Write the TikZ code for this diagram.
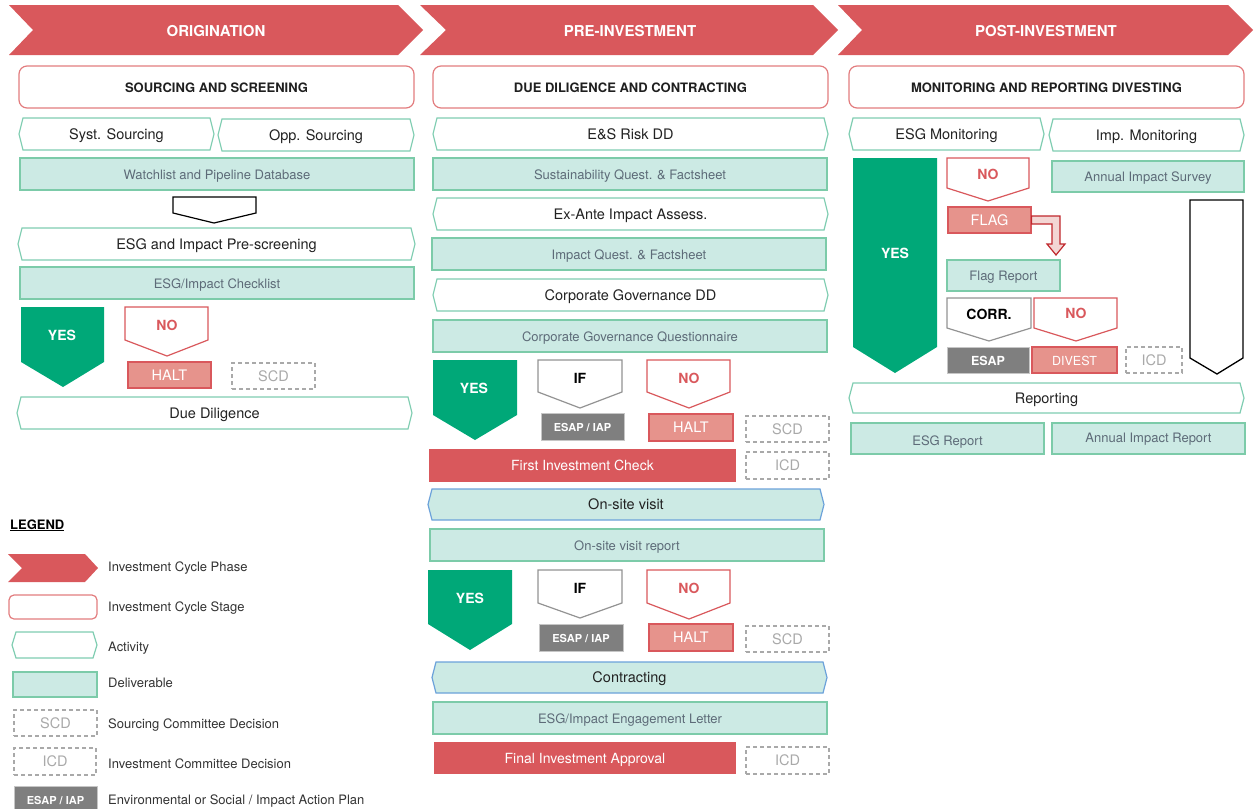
\documentclass[tikz,border=0pt]{standalone}
\usepackage{fontspec}
\setmainfont{TeX Gyre Heros}

\definecolor{phasered}{HTML}{D9585C}
\definecolor{stagered}{HTML}{E27C7E}
\definecolor{actgreen}{HTML}{7FCDB1}
\definecolor{delivfill}{HTML}{CCEAE4}
\definecolor{delivline}{HTML}{7CCBA9}
\definecolor{delivtext}{HTML}{5D6B78}
\definecolor{yesgreen}{HTML}{00A878}
\definecolor{haltfill}{HTML}{E6938C}
\definecolor{esapgray}{HTML}{7F7F7F}
\definecolor{visitblue}{HTML}{6CA2DA}
\definecolor{cdgray}{HTML}{A9A9A9}
\definecolor{flagfill}{HTML}{F3D6D4}
\definecolor{flagline}{HTML}{C0282D}
\definecolor{inktext}{HTML}{222222}

\tikzset{
  txtbase/.style={inner sep=0pt, text height=1.05em, text depth=0.05em},
  phase/.style={fill=phasered},
  phasetxt/.style={txtbase, text=white, font=\fontsize{15}{17}\selectfont\bfseries},
  stagebox/.style={txtbase, shape=rectangle, draw=stagered, line width=1.2pt, rounded corners=8pt, text=black!88, font=\fontsize{13}{15}\selectfont\bfseries},
  actline/.style={draw=actgreen, line width=1.2pt, fill=white},
  visitline/.style={draw=visitblue, line width=1.2pt, fill=delivfill},
  acttxt/.style={txtbase, text=inktext, font=\fontsize{14.5}{16}\selectfont},
  delivbox/.style={txtbase, shape=rectangle, draw=delivline, fill=delivfill, line width=1.2pt, text=delivtext, font=\fontsize{13}{15}\selectfont},
  yestag/.style={fill=yesgreen},
  notag/.style={draw=phasered, line width=1.2pt, fill=white},
  iftag/.style={draw=gray!85, line width=1.2pt, fill=white},
  tagtxt/.style={txtbase, font=\fontsize{14}{16}\selectfont\bfseries},
  haltbox/.style={txtbase, shape=rectangle, fill=haltfill, draw=phasered, line width=1.2pt, text=white, font=\fontsize{14.5}{16}\selectfont},
  esapbox/.style={txtbase, shape=rectangle, fill=esapgray, draw=gray!45, line width=0.8pt, text=white, font=\fontsize{11}{13}\selectfont\bfseries},
  cdbox/.style={txtbase, shape=rectangle, draw=cdgray, dash pattern=on 4pt off 3pt, line width=1.2pt, text=cdgray, font=\fontsize{14.5}{16}\selectfont},
  checkbox/.style={txtbase, shape=rectangle, fill=phasered, text=white, font=\fontsize{14}{16}\selectfont},
  flagarrow/.style={draw=flagline, fill=flagfill, line width=1.2pt, line join=miter},
  legtxt/.style={txtbase, anchor=west, text=black!80, font=\fontsize{13}{15}\selectfont}
}

\begin{document}
\begin{tikzpicture}[x=1pt, y=-1pt]
% Paths, nodes and shapes:
\useasboundingbox (0,0) rectangle (1254,809);

% phases
\fill[phase] (9,5) -- (398,5) -- (423,30) -- (398,55) -- (9,55) -- (33,30) -- cycle;
\node[phasetxt] (orig) at (216,31) {ORIGINATION};
\fill[phase] (420,5) -- (813,5) -- (838,30) -- (813,55) -- (420,55) -- (446,30) -- cycle;
\node[phasetxt] (preinv) at (630,31) {PRE-INVESTMENT};
\fill[phase] (838,5) -- (1228,5) -- (1253,30) -- (1228,55) -- (838,55) -- (862,30) -- cycle;
\node[phasetxt] (postinv) at (1046,31) {POST-INVESTMENT};

% stages
\node[stagebox, minimum width=395pt, minimum height=42pt] (sourcing) at (216.5,87) {SOURCING AND SCREENING};
\node[stagebox, minimum width=395pt, minimum height=42pt] (duedil) at (630.5,87) {DUE DILIGENCE AND CONTRACTING};
\node[stagebox, minimum width=395pt, minimum height=42pt] (monitor) at (1046.5,87) {MONITORING AND REPORTING DIVESTING};

% origination
\draw[actline] (19,134) -- (23,118) -- (210,118) -- (214,134) -- (210,150) -- (23,150) -- cycle;
\node[acttxt] (syst) at (116.5,134) {Syst. Sourcing};
\draw[actline] (218,135) -- (222,119) -- (410,119) -- (414,135) -- (410,151) -- (222,151) -- cycle;
\node[acttxt] (opp) at (316,135) {Opp. Sourcing};
\node[delivbox, minimum width=394pt, minimum height=32pt] (watchlist) at (217,174) {Watchlist and Pipeline Database};
\draw[black, line width=1.2pt, fill=white] (173,197) -- (256,197) -- (256,213) -- (214,223) -- (173,213) -- cycle;
\draw[actline] (18,244) -- (22,228) -- (411,228) -- (415,244) -- (411,260) -- (22,260) -- cycle;
\node[acttxt] (prescreen) at (216.5,244) {ESG and Impact Pre-screening};
\node[delivbox, minimum width=394pt, minimum height=32pt] (checklist) at (217,283) {ESG/Impact Checklist};
\fill[yestag] (21,307) -- (104,307) -- (104,362) -- (63,387) -- (21,362) -- cycle;
\node[tagtxt, text=white] (yesa) at (62,335) {YES};
\draw[notag] (125,307) -- (208,307) -- (208,340) -- (167,356) -- (125,340) -- cycle;
\node[tagtxt, text=phasered] (noa) at (167,325) {NO};
\node[haltbox, minimum width=83pt, minimum height=26pt] (halta) at (169.5,375) {HALT};
\node[cdbox, minimum width=83pt, minimum height=26pt] (scda) at (273.5,376) {SCD};
\draw[actline] (17,413) -- (21,397) -- (408,397) -- (412,413) -- (408,429) -- (21,429) -- cycle;
\node[acttxt] (ddact) at (214.5,413) {Due Diligence};

% pre-investment
\draw[actline] (433,134) -- (437,118) -- (824,118) -- (828,134) -- (824,150) -- (437,150) -- cycle;
\node[acttxt] (esrisk) at (630.5,134) {E\&S Risk DD};
\node[delivbox, minimum width=394pt, minimum height=32pt] (sustq) at (630,174) {Sustainability Quest. \& Factsheet};
\draw[actline] (433,214) -- (437,198) -- (824,198) -- (828,214) -- (824,230) -- (437,230) -- cycle;
\node[acttxt] (exante) at (630.5,214) {Ex-Ante Impact Assess.};
\node[delivbox, minimum width=394pt, minimum height=32pt] (impq) at (629,254) {Impact Quest. \& Factsheet};
\draw[actline] (433,295) -- (437,279) -- (824,279) -- (828,295) -- (824,311) -- (437,311) -- cycle;
\node[acttxt] (cgdd) at (630.5,295) {Corporate Governance DD};
\node[delivbox, minimum width=394pt, minimum height=32pt] (cgq) at (630,336) {Corporate Governance Questionnaire};
\fill[yestag] (433,360) -- (517,360) -- (517,415) -- (475,440) -- (433,415) -- cycle;
\node[tagtxt, text=white] (yesb) at (474,388) {YES};
\draw[iftag] (538,360) -- (622,360) -- (622,392) -- (580,408) -- (538,392) -- cycle;
\node[tagtxt, text=black] (ifb) at (580,378) {IF};
\node[esapbox, minimum width=83pt, minimum height=27pt] (esapb) at (582.5,426.5) {ESAP / IAP};
\draw[notag] (647,360) -- (730,360) -- (730,392) -- (689,408) -- (647,392) -- cycle;
\node[tagtxt, text=phasered] (nob) at (689,378) {NO};
\node[haltbox, minimum width=84pt, minimum height=27pt] (haltb) at (691,427.5) {HALT};
\node[cdbox, minimum width=83pt, minimum height=26pt] (scdb) at (787.5,429) {SCD};
\node[checkbox, minimum width=307pt, minimum height=33pt] (firstcheck) at (582.5,465.5) {First Investment Check};
\node[cdbox, minimum width=83pt, minimum height=27pt] (icdb) at (787.5,465.5) {ICD};
\draw[visitline] (428,504.5) -- (432,489) -- (820,489) -- (824,504.5) -- (820,520) -- (432,520) -- cycle;
\node[acttxt] (visit) at (626,504.5) {On-site visit};
\node[delivbox, minimum width=394pt, minimum height=32pt] (visitrep) at (627,545) {On-site visit report};
\fill[yestag] (428,570) -- (512,570) -- (512,624) -- (470,650) -- (428,624) -- cycle;
\node[tagtxt, text=white] (yesc) at (470,598) {YES};
\draw[iftag] (538,570) -- (622,570) -- (622,603) -- (580,618) -- (538,603) -- cycle;
\node[tagtxt, text=black] (ifc) at (580,588) {IF};
\node[esapbox, minimum width=84pt, minimum height=27pt] (esapc) at (581,637.5) {ESAP / IAP};
\draw[notag] (647,570) -- (730,570) -- (730,603) -- (689,619) -- (647,603) -- cycle;
\node[tagtxt, text=phasered] (noc) at (689,588) {NO};
\node[haltbox, minimum width=84pt, minimum height=27pt] (haltc) at (691,637.5) {HALT};
\node[cdbox, minimum width=83pt, minimum height=26pt] (scdc) at (787.5,639) {SCD};
\draw[visitline] (432,677.5) -- (436,662) -- (823,662) -- (827,677.5) -- (823,693) -- (436,693) -- cycle;
\node[acttxt] (contract) at (629.5,677.5) {Contracting};
\node[delivbox, minimum width=394pt, minimum height=32pt] (letter) at (630,718) {ESG/Impact Engagement Letter};
\node[checkbox, minimum width=302pt, minimum height=32pt] (finalok) at (585,758) {Final Investment Approval};
\node[cdbox, minimum width=83pt, minimum height=27pt] (icdc) at (787.5,760.5) {ICD};

% post-investment
\draw[actline] (849,134) -- (853,118) -- (1040,118) -- (1044,134) -- (1040,150) -- (853,150) -- cycle;
\node[acttxt] (esgmon) at (946.5,134) {ESG Monitoring};
\draw[actline] (1049,135) -- (1053,119) -- (1240,119) -- (1244,135) -- (1240,151) -- (1053,151) -- cycle;
\node[acttxt] (impmon) at (1146.5,135) {Imp. Monitoring};
\fill[yestag] (853,158) -- (937,158) -- (937,347) -- (895,373) -- (853,347) -- cycle;
\node[tagtxt, text=white] (yesd) at (895,253) {YES};
\draw[notag] (947,158) -- (1029,158) -- (1029,188) -- (988,201) -- (947,188) -- cycle;
\node[tagtxt, text=phasered] (nod) at (988,174) {NO};
\node[delivbox, minimum width=192pt, minimum height=31pt] (survey) at (1148,176.5) {Annual Impact Survey};
\node[haltbox, minimum width=83pt, minimum height=26pt] (flag) at (989.5,220) {FLAG};
\node[delivbox, minimum width=113pt, minimum height=31pt] (flagrep) at (1003.5,275.5) {Flag Report};
\draw[flagarrow] ([yshift=4pt]flag.east) -- (1060,216) -- (1060,244) -- (1065,244) -- (1056,255) -- (1047,244) -- (1052,244) -- (1052,224) -- ([yshift=-4pt]flag.east) -- cycle;
\draw[iftag] (947,298) -- (1031,298) -- (1031,328) -- (989,341) -- (947,328) -- cycle;
\node[tagtxt, text=black] (corr) at (989,314) {CORR.};
\draw[notag] (1034,298) -- (1117,298) -- (1117,328) -- (1076,341) -- (1034,328) -- cycle;
\node[tagtxt, text=phasered] (noe) at (1076,313) {NO};
\node[esapbox, minimum width=82pt, minimum height=26pt, font=\fontsize{12.5}{14}\selectfont\bfseries] (esapd) at (988,360) {ESAP};
\node[haltbox, minimum width=85pt, minimum height=26pt, font=\fontsize{12.5}{14}\selectfont] (divest) at (1074.5,360) {DIVEST};
\node[cdbox, minimum width=56pt, minimum height=26pt] (icdd) at (1154,360) {ICD};
\draw[black, line width=1.3pt, fill=white] (1190,200) -- (1243,200) -- (1243,358) -- (1217,374) -- (1190,358) -- cycle;
\draw[actline] (849,398) -- (853,383) -- (1240,383) -- (1244,398) -- (1240,413) -- (853,413) -- cycle;
\node[acttxt] (reporting) at (1046.5,398) {Reporting};
\node[delivbox, minimum width=193pt, minimum height=31pt] (esgrep) at (947.5,438.5) {\raisebox{-2pt}{ESG Report}};
\node[delivbox, minimum width=193pt, minimum height=31pt] (airep) at (1148.5,438.5) {\raisebox{1pt}{Annual Impact Report}};

% legend
\node[txtbase, anchor=west, text=black, font=\fontsize{13}{15}\selectfont\bfseries] (legend) at (10,524) {\underline{LEGEND}};
\fill[phase] (8,554) -- (85,554) -- (98,568) -- (85,582) -- (8,582) -- (22,568) -- cycle;
\node[legtxt] (legphase) at (108,566) {Investment Cycle Phase};
\node[stagebox, minimum width=88pt, minimum height=24pt, rounded corners=5pt] (legstage) at (53,607) {};
\node[legtxt] (legstagetxt) at (108,606) {Investment Cycle Stage};
\draw[actline] (12,645) -- (16,632) -- (93,632) -- (97,645) -- (93,658) -- (16,658) -- cycle;
\node[legtxt] (legact) at (108,646) {Activity};
\node[delivbox, minimum width=84pt, minimum height=25pt] (legdeliv) at (55,684.5) {};
\node[legtxt] (legdelivtxt) at (108,682) {Deliverable};
\node[cdbox, minimum width=83pt, minimum height=26pt] (legscd) at (55.5,723) {SCD};
\node[legtxt] (legscdtxt) at (108,723) {Sourcing Committee Decision};
\node[cdbox, minimum width=82pt, minimum height=27pt] (legicd) at (55,761.5) {ICD};
\node[legtxt] (legicdtxt) at (108,763) {Investment Committee Decision};
\node[esapbox, minimum width=83pt, minimum height=26pt] (legesap) at (55.5,799) {ESAP / IAP};
\node[legtxt] (legesaptxt) at (108,799) {Environmental or Social / Impact Action Plan};
\end{tikzpicture}
\end{document}
